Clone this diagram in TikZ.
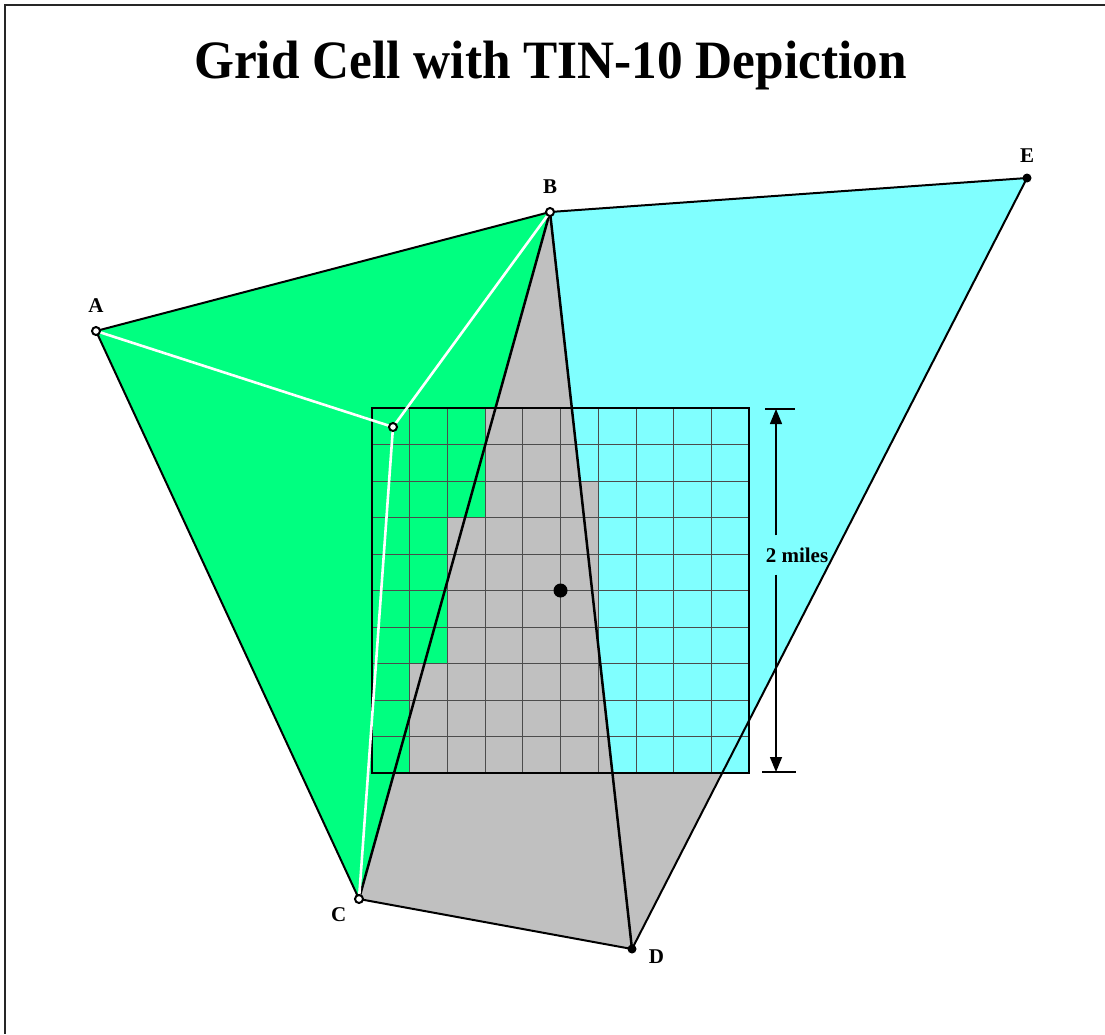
\documentclass[tikz,border=0pt]{standalone}
\usepackage{fontspec}
\usepackage{graphicx}
\setmainfont{Liberation Serif}
\usetikzlibrary{arrows.meta, positioning}
\definecolor{tingreen}{RGB}{0,255,128}
\definecolor{tincyan}{RGB}{128,255,255}
\definecolor{tingray}{RGB}{192,192,192}

\begin{document}
\begin{tikzpicture}[
    x=1pt, y=-1pt,
    vtx/.style={
      circle, draw=black, fill=white, line width=2pt,
      inner sep=0pt, minimum size=8pt
    },
    vtxdot/.style={circle, fill=black, inner sep=0pt, minimum size=9pt},
    edge/.style={line width=2pt, line join=round},
    spoke/.style={draw=white, line width=2.6pt, line join=round},
    lbl/.style={font=\fontsize{21}{21}\selectfont\bfseries, inner sep=0pt},
    cellline/.style={draw=black!70, line width=0.8pt},
    dimarrow/.style={-{Triangle[length=15pt,width=12pt]}, line width=1.4pt}
  ]
  \useasboundingbox (0,0) rectangle (1105,1034);
  \draw[line width=2pt, black!85] (1105,5) -- (5,5) -- (5,1034);

  % TIN vertices
  \coordinate (A) at (96,331);
  \coordinate (B) at (550,212);
  \coordinate (E) at (1027,178);
  \coordinate (C) at (359,899);
  \coordinate (D) at (632,949);
  \coordinate (P) at (393,427);
  % where B-D and E-D meet the bottom of the grid cell
  \coordinate (R) at (612.4,773);
  \coordinate (Q) at (722,773);

  \fill[tingreen] (A) -- (B) -- (C) -- cycle;
  \fill[tingray]  (B) -- (C) -- (D) -- (Q) -- (R) -- cycle;
  \fill[tincyan]  (B) -- (E) -- (Q) -- (R) -- cycle;

  % grid cell, 10 x 10
  \def\gx{372} \def\gy{408} \def\cw{37.7} \def\ch{36.5}
  \foreach \r/\g/\c/\s in {0/3/5/6, 1/3/5/6, 2/3/6/6, 3/2/6/6, 4/2/6/6,
                           5/2/6/6, 6/2/6/6, 7/1/6/7, 8/1/6/7, 9/1/6/7} {
    \fill[tingreen] (\gx, \gy+\r*\ch) rectangle (\gx+\g*\cw, \gy+\r*\ch+\ch);
    \fill[tingray]  (\gx+\g*\cw, \gy+\r*\ch) rectangle (\gx+\c*\cw, \gy+\r*\ch+\ch);
    \fill[tincyan]  (\gx+\s*\cw, \gy+\r*\ch) rectangle (\gx+10*\cw, \gy+\r*\ch+\ch);
  }
  \foreach \i in {1,...,9} {
    \draw[cellline] (\gx+\i*\cw, \gy) -- ++(0,365);
    \draw[cellline] (\gx, \gy+\i*\ch) -- ++(377,0);
  }
  \draw[line width=1.5pt] (\gx,\gy) rectangle ++(377,365);

  \draw[edge] (A) -- (B) -- (E) -- (D) -- (C) -- cycle;
  \draw[edge, line width=2.5pt] (B) -- (C);
  \draw[edge, line width=2.5pt] (B) -- (D);
  \draw[spoke] (A) -- (P) -- (B);
  \draw[spoke] (P) -- (C);

  \node[vtx]    (a) at (A) {};
  \node[vtx]    (b) at (B) {};
  \node[vtxdot] (e) at (E) {};
  \node[vtx]    (c) at (C) {};
  \node[vtxdot] (d) at (D) {};
  \node[vtx]    (p) at (P) {};
  \node[circle, fill=black, inner sep=0pt, minimum size=14pt] (ctr) at (560.5,590.5) {};

  \node[lbl, above=13pt of a] (la) {A};
  \node[lbl, above=13pt of b] (lb) {B};
  \node[lbl, above=11pt of e] (le) {E};
  \node[lbl, below left=5pt and 9pt of c] (lc) {C};
  \node[lbl, right=12pt of d, yshift=-8pt] (ld) {D};

  % 2 miles dimension
  \coordinate (dtop) at (776,409);
  \coordinate (dbot) at (776,772);
  \draw[line width=1.4pt] (dtop) ++(-11,0) -- ++(30,0);
  \draw[line width=1.4pt] (dbot) ++(-14,0) -- ++(34,0);
  \node[lbl, inner ysep=12pt] (miles) at (797,555) {2 miles};
  \draw[dimarrow] (miles.north -| dtop) -- (dtop);
  \draw[dimarrow] (miles.south -| dbot) -- (dbot);

  \node[font=\fontsize{54}{60}\selectfont\bfseries, anchor=base] (title) at (550.5,78)
    {\scalebox{0.95}[1]{Grid Cell with TIN-10 Depiction}};
\end{tikzpicture}
\end{document}
